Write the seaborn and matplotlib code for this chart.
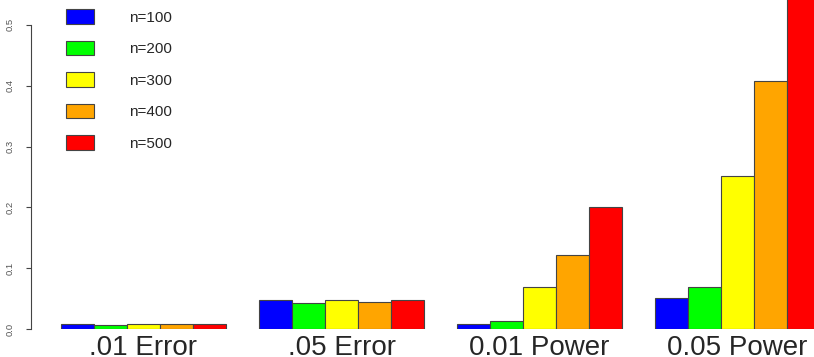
import numpy as np
import pandas as pd
import matplotlib
matplotlib.use("Agg")
import matplotlib.pyplot as plt
import seaborn as sns

categories = [".01 Error", ".05 Error", "0.01 Power", "0.05 Power"]
sizes = ["n=100", "n=200", "n=300", "n=400", "n=500"]
colors = ["#0000FF", "#00FF00", "#FFFF00", "#FFA500", "#FF0000"]

n100 = [0.008, 0.048, 0.008, 0.051]
n200 = [0.006, 0.043, 0.013, 0.069]
n300 = [0.009, 0.047, 0.069, 0.251]
n400 = [0.009, 0.044, 0.121, 0.408]
n500 = [0.009, 0.048, 0.201, 0.580]

rows = []
for size, vals in zip(sizes, [n100, n200, n300, n400, n500]):
    for cat, v in zip(categories, vals):
        rows.append({"category": cat, "n": size, "value": v})
df = pd.DataFrame(rows)

sns.set_style("white")
plt.rcParams['font.family'] = ['Liberation Sans', 'DejaVu Sans']

W, H = 814, 357
fig = plt.figure(figsize=(W / 100, H / 100), dpi=100)
ax = fig.add_axes([31 / W, 28 / H, 1 - 31 / W, 1 - 28 / H])

sns.barplot(data=df, x="category", y="value", hue="n", order=categories,
            hue_order=sizes, palette=colors, saturation=1, width=5 / 6,
            edgecolor="#444444", linewidth=0.8, ax=ax)

ax.set_xlim(-0.568, 3.386)
ax.set_ylim(0, 0.541)
ax.set_xlabel("")
ax.set_ylabel("")

for s in ["top", "right", "bottom"]:
    ax.spines[s].set_visible(False)
ax.spines["left"].set_bounds(0, 0.5)
ax.spines["left"].set_color("#444444")
ax.spines["left"].set_linewidth(0.8)

ax.set_yticks([0.0, 0.1, 0.2, 0.3, 0.4, 0.5])
ax.set_yticklabels(["0.0", "0.1", "0.2", "0.3", "0.4", "0.5"],
                   rotation=90, va="center", fontsize=6.8, color="#555555")
ax.tick_params(axis="y", left=True, length=3.6, width=0.8, color="#444444", pad=8)
ax.tick_params(axis="x", bottom=False, labelsize=20, pad=1)

ax.legend(loc="upper left", bbox_to_anchor=(66 / W, 1 - 9 / H),
          bbox_transform=fig.transFigure, frameon=False, fontsize=11,
          handlelength=1.83, handleheight=1.1, labelspacing=1.05,
          handletextpad=2.3, borderpad=0, borderaxespad=0)

fig.savefig("out.png", dpi=100)
